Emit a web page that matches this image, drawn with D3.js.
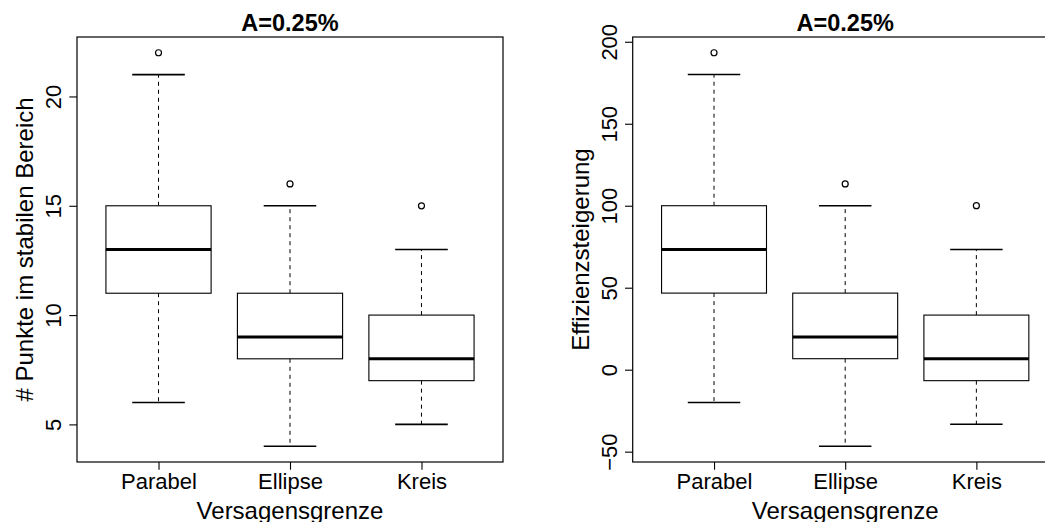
<!DOCTYPE html>
<html>
<head>
<meta charset="utf-8">
<script src="https://cdn.jsdelivr.net/npm/d3@7"></script>
<style>
  body { margin: 0; background: #fff; }
  svg { display: block; font-family: "Liberation Sans", Arial, Helvetica, sans-serif; }
  .frame { fill: none; stroke: #000; stroke-width: 1.2; }
  .box { fill: #fff; stroke: #000; stroke-width: 1.1; }
  .median { stroke: #000; stroke-width: 3; }
  .whisker { stroke: #000; stroke-width: 1; stroke-dasharray: 4,4; }
  .cap { stroke: #000; stroke-width: 1.6; }
  .outlier { fill: none; stroke: #000; stroke-width: 1.2; }
  .tick line { stroke: #000; stroke-width: 1.1; }
  .tick text { font-size: 22px; fill: #000; }
  .axis-title { font-size: 24px; fill: #000; }
  .main-title { font-size: 23.5px; font-weight: bold; fill: #000; }
</style>
</head>
<body>
<svg id="chart" width="1045" height="522"></svg>
<script>
  const W = 1045;
  const H = 522;

  const categories = ['Parabel', 'Ellipse', 'Kreis'];

  // [lower whisker, Q1, median, Q3, upper whisker]
  const punkteStats = [
    [6, 11, 13, 15, 21],
    [4, 8, 9, 11, 15],
    [5, 7, 8, 10, 13]
  ];
  const punkteOutliers = [[22], [16], [15]];
  const punkteTicks = [5, 10, 15, 20];

  const effizienzStats = [
    [-20, 46.7, 73.3, 100, 180],
    [-46.7, 6.7, 20, 46.7, 100],
    [-33.3, -6.7, 6.7, 33.3, 73.3]
  ];
  const effizienzOutliers = [[193.3], [113.3], [100]];
  const effizienzTicks = [-50, 0, 50, 100, 150, 200];

  const panels = [
    { title: 'A=0.25%', ylabel: '# Punkte im stabilen Bereich', xlabel: 'Versagensgrenze',
      stats: punkteStats, outliers: punkteOutliers, ticks: punkteTicks, left: 77, right: 503 },
    { title: 'A=0.25%', ylabel: 'Effizienzsteigerung', xlabel: 'Versagensgrenze',
      stats: effizienzStats, outliers: effizienzOutliers, ticks: effizienzTicks, left: 632.7, right: 1057.7 }
  ];

  const TOP = 37;
  const BOTTOM = 462;
  const TICK = 7.7;

  const svg = d3.select('#chart');
  const fmt = v => (v < 0 ? '\u2212' + Math.abs(v) : String(v));

  panels.forEach(drawPanel);

  function drawPanel(p) {
    const g = svg.append('g');

    // R style: 4% padding on each side of the data range
    const all = p.stats.flat().concat(p.outliers.flat());
    const lo = d3.min(all);
    const hi = d3.max(all);
    const pad = (hi - lo) * 0.04;
    const y = d3.scaleLinear().domain([lo - pad, hi + pad]).range([BOTTOM, TOP]);
    const n = categories.length;
    const xpad = n * 0.04;
    const x = d3.scaleLinear().domain([0.5 - xpad, n + 0.5 + xpad]).range([p.left, p.right]);

    const boxHalf = 0.4;
    const capHalf = 0.2;

    const groups = g.selectAll('g.bp')
      .data(p.stats.map((s, i) => ({ s, i, out: p.outliers[i] })))
      .join('g')
      .attr('class', 'bp');

    groups.append('line')
      .attr('class', 'whisker')
      .attr('x1', d => x(d.i + 1)).attr('x2', d => x(d.i + 1))
      .attr('y1', d => y(d.s[3])).attr('y2', d => y(d.s[4]));
    groups.append('line')
      .attr('class', 'whisker')
      .attr('x1', d => x(d.i + 1)).attr('x2', d => x(d.i + 1))
      .attr('y1', d => y(d.s[1])).attr('y2', d => y(d.s[0]));

    groups.selectAll('line.cap')
      .data(d => [d.s[0], d.s[4]].map(v => ({ v, i: d.i })))
      .join('line')
      .attr('class', 'cap')
      .attr('x1', d => x(d.i + 1 - capHalf)).attr('x2', d => x(d.i + 1 + capHalf))
      .attr('y1', d => y(d.v)).attr('y2', d => y(d.v));

    groups.append('rect')
      .attr('class', 'box')
      .attr('x', d => x(d.i + 1 - boxHalf))
      .attr('width', d => x(d.i + 1 + boxHalf) - x(d.i + 1 - boxHalf))
      .attr('y', d => y(d.s[3]))
      .attr('height', d => y(d.s[1]) - y(d.s[3]));

    groups.append('line')
      .attr('class', 'median')
      .attr('x1', d => x(d.i + 1 - boxHalf)).attr('x2', d => x(d.i + 1 + boxHalf))
      .attr('y1', d => y(d.s[2])).attr('y2', d => y(d.s[2]));

    groups.selectAll('circle')
      .data(d => d.out.map(v => ({ v, i: d.i })))
      .join('circle')
      .attr('class', 'outlier')
      .attr('cx', d => x(d.i + 1))
      .attr('cy', d => y(d.v))
      .attr('r', 3);

    g.append('rect')
      .attr('class', 'frame')
      .attr('x', p.left).attr('y', TOP)
      .attr('width', p.right - p.left).attr('height', BOTTOM - TOP);

    // y axis
    const ya = g.append('g')
      .attr('transform', `translate(${p.left},0)`)
      .call(d3.axisLeft(y).tickValues(p.ticks).tickSize(TICK).tickFormat(fmt));
    ya.select('.domain').remove();
    ya.selectAll('.tick text')
      .attr('x', null).attr('dy', null)
      .attr('text-anchor', 'middle')
      .attr('font-family', null).attr('font-size', null)
      .attr('transform', 'translate(-16,0) rotate(-90)');

    // x axis
    const xa = g.append('g')
      .attr('transform', `translate(0,${BOTTOM})`)
      .call(d3.axisBottom(x).tickValues(d3.range(1, n + 1)).tickSize(TICK)
        .tickFormat(i => categories[i - 1]));
    xa.select('.domain').remove();
    xa.selectAll('.tick text')
      .attr('y', 27.3).attr('dy', null)
      .attr('font-family', null).attr('font-size', null);

    const cx = (p.left + p.right) / 2;
    const cy = (TOP + BOTTOM) / 2;

    g.append('text')
      .attr('class', 'main-title')
      .attr('x', cx).attr('y', 30.5)
      .attr('text-anchor', 'middle')
      .text(p.title);

    g.append('text')
      .attr('class', 'axis-title')
      .attr('x', cx).attr('y', 519)
      .attr('text-anchor', 'middle')
      .text(p.xlabel);

    g.append('text')
      .attr('class', 'axis-title')
      .attr('text-anchor', 'middle')
      .attr('transform', `translate(${p.left - 44},${cy}) rotate(-90)`)
      .text(p.ylabel);
  }
</script>
</body>
</html>
